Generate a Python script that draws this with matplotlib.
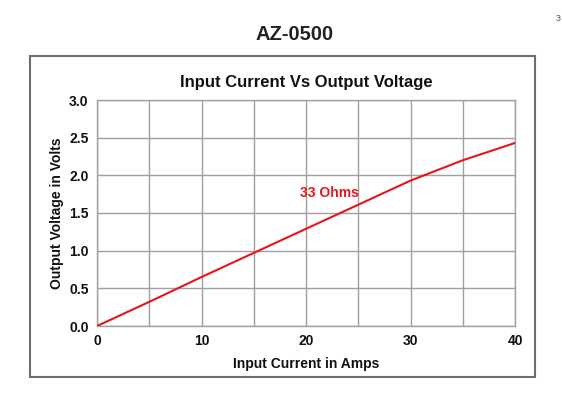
import matplotlib
matplotlib.use("Agg")
import matplotlib.pyplot as plt
from matplotlib.patches import Rectangle

plt.rcParams['font.family'] = ['Liberation Sans', 'DejaVu Sans']

current = [0, 5, 10, 15, 20, 25, 30, 35, 40]
voltage = [0.0, 0.32, 0.65, 0.97, 1.29, 1.61, 1.93, 2.20, 2.43]
xticks = [0, 10, 20, 30, 40]
yticks = [0.0, 0.5, 1.0, 1.5, 2.0, 2.5, 3.0]
series_label = "33 Ohms"

W, H = 562, 398
fig = plt.figure(figsize=(W / 100, H / 100), dpi=100)
fig.patch.set_facecolor('white')

# outer box
fig.patches.append(Rectangle((30 / W, 1 - 377 / H), 505 / W, 321 / H,
                             transform=fig.transFigure, fill=False,
                             edgecolor='#6e6e6e', linewidth=1.5))

fig.text(295 / W, 1 - 35 / H, "AZ-0500", ha='center', va='center',
         fontsize=14.5, fontweight='bold', color='#222222')
fig.text(558 / W, 1 - 18 / H, "з", ha='center', va='center',
         fontsize=8, color='#666666')

ax = fig.add_axes([97 / W, 1 - 326 / H, 418 / W, 226 / H])
ax.plot(current, voltage, color='#e8141c', linewidth=1.5, zorder=3)
ax.set_xlim(0, 40)
ax.set_ylim(0, 3.0)
ax.set_xticks(range(0, 41, 5))
ax.set_xticklabels([str(v) if v in xticks else '' for v in range(0, 41, 5)])
ax.set_yticks(yticks)
ax.set_yticklabels([f"{v:.1f}" for v in yticks])
ax.tick_params(length=0, labelsize=10, pad=6)
for lab in ax.get_xticklabels() + ax.get_yticklabels():
    lab.set_fontweight('bold')
    lab.set_color('#111111')
ax.grid(True, color='#a0a0a0', linewidth=1.0)
ax.set_axisbelow(True)
for s in ax.spines.values():
    s.set_color('#a0a0a0')
    s.set_linewidth(1.0)

ax.set_title("Input Current Vs Output Voltage", fontsize=12, fontweight='bold',
             color='#111111', pad=9)
ax.set_xlabel("Input Current in Amps", fontsize=10, fontweight='bold',
              color='#111111', labelpad=6)
ax.set_ylabel("Output Voltage in Volts", fontsize=10, fontweight='bold',
              color='#111111', labelpad=4)

ax.text(22.2, 1.77, series_label, color='#e8141c', fontsize=10,
        fontweight='bold', ha='center', va='center')

fig.savefig("out.png", dpi=100)
